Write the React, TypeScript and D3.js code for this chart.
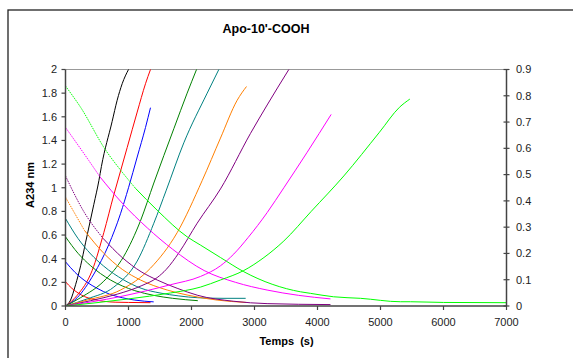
import React from "react";
import * as d3 from "d3";

const TITLE = "Apo-10'-COOH";
const X_LABEL = "Temps  (s)";
const Y_LABEL = "A234 nm";
const X_TICKS = [0, 1000, 2000, 3000, 4000, 5000, 6000, 7000];
const Y_LEFT_TICKS = [0, 0.2, 0.4, 0.6, 0.8, 1, 1.2, 1.4, 1.6, 1.8, 2];
const Y_RIGHT_TICKS = [0, 0.1, 0.2, 0.3, 0.4, 0.5, 0.6, 0.7, 0.8, 0.9];

// rising curves [time s, A]
const blackRise = [[0,0],[80,0.05],[160,0.18],[240,0.34],[320,0.54],[450,0.86],[530,1.06],[570,1.18],[740,1.56],[820,1.74],[900,1.88],[1000,2.0]];
const redRise = [[0,0],[185,0.09],[423,0.3],[608,0.62],[767,0.94],[820,1.04],[979,1.34],[1138,1.64],[1270,1.88],[1349,2.0]];
const blueRise = [[0,0],[185,0.07],[450,0.27],[688,0.52],[873,0.78],[1000,1.0],[1138,1.26],[1270,1.51],[1349,1.677]];
const greenRise = [[0,0],[238,0.07],[608,0.21],[925,0.42],[1190,0.72],[1402,1.04],[1720,1.5],[1931,1.8],[2080,2.0]];
const tealRise = [[0,0],[344,0.06],[767,0.16],[1138,0.38],[1402,0.7],[1600,0.98],[1878,1.38],[2249,1.8],[2434,2.0]];
const orangeRise = [[0,0],[344,0.05],[873,0.135],[1349,0.32],[1772,0.62],[2169,1.06],[2460,1.42],[2725,1.74],[2873,1.856]];
const purpleRise = [[0,0],[400,0.045],[820,0.1],[1200,0.17],[1455,0.24],[1600,0.31],[1800,0.45],[2090,0.7],[2460,0.99],[2937,1.46],[3201,1.7],[3545,2.0]];
const magentaRise = [[0,0],[873,0.08],[1667,0.18],[2143,0.25],[2460,0.34],[2672,0.44],[2900,0.58],[3201,0.79],[3466,1.0],[3836,1.3],[4217,1.62]];
const limeRise = [[0,0],[1000,0.06],[1667,0.11],[2143,0.16],[2460,0.22],[2830,0.3],[3150,0.41],[3466,0.55],[3900,0.8],[4418,1.1],[4984,1.47],[5300,1.68],[5466,1.75]];

// decaying curves [time s, A]
const redDecay = [[0,0.205],[100,0.15],[200,0.11],[300,0.08],[450,0.055],[600,0.04],[800,0.032],[1000,0.03],[1350,0.028]];
const blueDecay = [[0,0.374],[150,0.285],[344,0.2],[500,0.15],[700,0.1],[900,0.07],[1100,0.05],[1400,0.035]];
const greenDecay = [[0,0.585],[200,0.445],[400,0.34],[714,0.22],[900,0.17],[1100,0.13],[1400,0.09],[1700,0.065],[2100,0.045]];
const tealDecay = [[0,0.74],[200,0.57],[400,0.44],[600,0.34],[925,0.22],[1200,0.15],[1500,0.11],[1800,0.085],[2100,0.07],[2500,0.065],[2860,0.065]];
const orangeDecay = [[0,0.92],[300,0.64],[600,0.45],[900,0.31],[1190,0.22],[1614,0.135],[1931,0.093],[2407,0.05],[2870,0.03]];
const purpleDecay = [[0,1.1],[300,0.79],[600,0.57],[900,0.41],[1200,0.29],[1455,0.22],[1772,0.15],[2100,0.09],[2672,0.04],[3200,0.02],[4206,0.012]];
const magentaDecay = [[0,1.51],[370,1.23],[550,1.09],[900,0.87],[1300,0.66],[1700,0.48],[2200,0.3],[2700,0.2],[3200,0.135],[3700,0.09],[4206,0.06]];
const limeDecay = [[0,1.86],[240,1.68],[635,1.32],[873,1.15],[1111,0.995],[1455,0.81],[1931,0.585],[2143,0.515],[2460,0.41],[2830,0.29],[3730,0.12],[3889,0.107],[4254,0.078],[4683,0.065],[5317,0.036],[5476,0.036],[6000,0.03],[7000,0.028]];

const SERIES = [
  { color: "#000000", rise: blackRise, decay: null, dotUntil: 0 },
  { color: "#ff0000", rise: redRise, decay: redDecay, dotUntil: 0 },
  { color: "#0000ff", rise: blueRise, decay: blueDecay, dotUntil: 0 },
  { color: "#008000", rise: greenRise, decay: greenDecay, dotUntil: 0 },
  { color: "#008080", rise: tealRise, decay: tealDecay, dotUntil: 0 },
  { color: "#ff7f00", rise: orangeRise, decay: orangeDecay, dotUntil: 300 },
  { color: "#800080", rise: purpleRise, decay: purpleDecay, dotUntil: 600 },
  { color: "#ff00ff", rise: magentaRise, decay: magentaDecay, dotUntil: 550 },
  { color: "#00ff00", rise: limeRise, decay: limeDecay, dotUntil: 1111 },
];

export default function App() {
  const W = 573, H = 358;
  const left = 65.5, right = 506.5, top = 69.5, bottom = 306;
  const x = d3.scaleLinear().domain([0, 7000]).range([left, right]);
  const yL = d3.scaleLinear().domain([0, 2]).range([bottom, top]);
  const yR = d3.scaleLinear().domain([0, 0.9]).range([bottom, top]);
  const line = d3.line<number[]>().x(d => x(d[0])).y(d => yL(d[1])).curve(d3.curveMonotoneX);
  const font = "Arial, 'Liberation Sans', sans-serif";
  return (
    <svg width={W} height={H} style={{ position: "absolute", left: 0, top: 0, background: "#fff" }}>
      <rect x={8} y={10} width={700} height={500} fill="#fff" stroke="#222" strokeWidth={1.3} />
      <text x={266} y={33} textAnchor="middle" fontFamily={font} fontWeight="bold" fontSize={12.5} fill="#000">{TITLE}</text>
      <defs>
        <clipPath id="plot"><rect x={left} y={top - 1} width={right - left} height={bottom - top + 1} /></clipPath>
      </defs>
      <line x1={left} x2={right} y1={top} y2={top} stroke="#999" strokeWidth={1} />
      <g clipPath="url(#plot)">
        {SERIES.map((s, i) => {
          const dec = s.decay as number[][] | null;
          const dotted = dec ? dec.filter(d => d[0] <= s.dotUntil) : [];
          const solid = dec ? dec.filter(d => d[0] >= s.dotUntil) : [];
          return (
            <g key={i}>
              {dec && dotted.length > 1 && <path d={line(dotted) || ""} fill="none" stroke={s.color} strokeWidth={1} strokeDasharray="1.5 1" />}
              {dec && <path d={line(solid) || ""} fill="none" stroke={s.color} strokeWidth={1} />}
              <path d={line(s.rise as number[][]) || ""} fill="none" stroke={s.color} strokeWidth={1} />
            </g>
          );
        })}
      </g>
      {/* left axis */}
      <line x1={left} x2={left} y1={top} y2={bottom} stroke="#444" strokeWidth={1.5} />
      {Y_LEFT_TICKS.map(t => (
        <g key={"l" + t}>
          <line x1={left - 4} x2={left} y1={yL(t)} y2={yL(t)} stroke="#444" strokeWidth={1.2} />
          <text x={57} y={yL(t)} dy="0.35em" textAnchor="end" fontFamily={font} fontSize={11} fill="#222">{d3.format("~g")(t)}</text>
        </g>
      ))}
      {/* right axis */}
      <line x1={right} x2={right} y1={top} y2={bottom} stroke="#444" strokeWidth={1.5} />
      {Y_RIGHT_TICKS.map(t => (
        <g key={"r" + t}>
          <line x1={right - 3} x2={right + 3} y1={yR(t)} y2={yR(t)} stroke="#444" strokeWidth={1.2} />
          <text x={516} y={yR(t)} dy="0.35em" textAnchor="start" fontFamily={font} fontSize={11} fill="#222">{d3.format("~g")(t)}</text>
        </g>
      ))}
      {/* bottom axis */}
      <line x1={left} x2={right} y1={bottom} y2={bottom} stroke="#444" strokeWidth={1.5} />
      {X_TICKS.map(t => (
        <g key={"x" + t}>
          <line x1={x(t)} x2={x(t)} y1={bottom} y2={bottom + 4} stroke="#444" strokeWidth={1.2} />
          <text x={x(t)} y={326} textAnchor="middle" fontFamily={font} fontSize={11} fill="#222">{t}</text>
        </g>
      ))}
      <text x={286.5} y={345} textAnchor="middle" fontFamily={font} fontWeight="bold" fontSize={11} fill="#000" style={{ whiteSpace: "pre" }}>{X_LABEL}</text>
      <text transform="translate(34,185) rotate(-90)" textAnchor="middle" fontFamily={font} fontWeight="bold" fontSize={11} fill="#000">{Y_LABEL}</text>
    </svg>
  );
}
